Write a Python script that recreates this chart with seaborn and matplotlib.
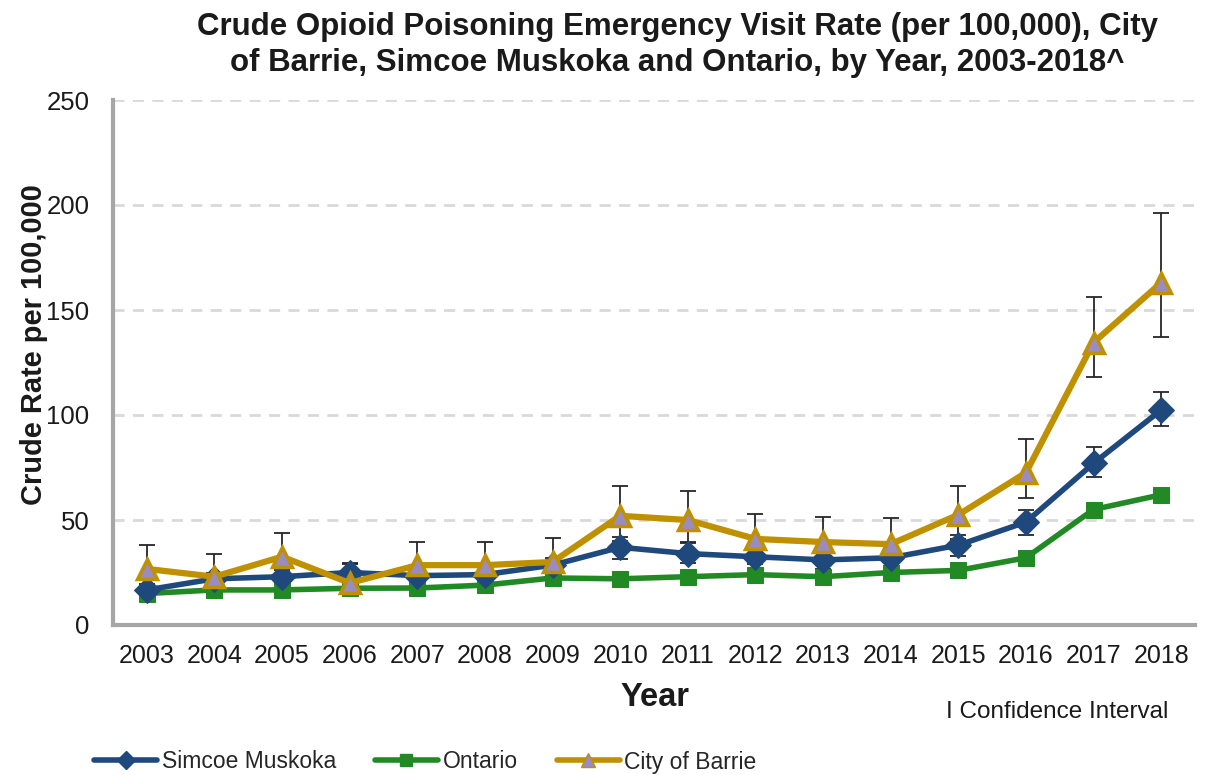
import matplotlib
matplotlib.use("Agg")
import matplotlib.pyplot as plt
from matplotlib.lines import Line2D
import seaborn as sns
import pandas as pd
import numpy as np

years = [2003, 2004, 2005, 2006, 2007, 2008, 2009, 2010, 2011, 2012, 2013, 2014, 2015, 2016, 2017, 2018]
simcoe = [16.7, 22, 23, 25, 23.5, 24, 28.5, 37, 34, 32.5, 31, 32, 38, 49, 77, 102.4]
simcoe_lo = [14, 19, 20, 21, 20.5, 21, 25, 31.5, 29.5, 29, 26.5, 28, 33, 43, 70.5, 95]
simcoe_hi = [19.5, 25, 26, 29.5, 27, 27.5, 32, 42, 39, 36, 34.5, 35, 43, 55, 85, 111]
ontario = [15, 16.7, 16.7, 17.5, 17.6, 19, 22.4, 22, 23, 24, 23, 25, 26, 32, 55, 62]
barrie = [26.7, 23, 32.5, 20, 28.5, 28.5, 30, 52, 50, 41, 39.5, 38.5, 52.5, 72.5, 134.5, 163]
barrie_lo = [17, 14, 23, 14, 19.5, 19.5, 21, 40, 39.5, 31, 29, 28, 41, 60.5, 118, 137]
barrie_hi = [38, 34, 44, 29, 39.5, 39.5, 41.5, 66, 64, 53, 51.5, 51, 66, 88.5, 156, 196]
yticks = [0, 50, 100, 150, 200, 250]

sns.set_theme(style="white")
plt.rcParams['font.family'] = ['Liberation Sans', 'DejaVu Sans']

fig = plt.figure(figsize=(12.07, 7.75), dpi=100)
ax = fig.add_axes([113/1207, 1-625/775, (1195-113)/1207, 525/775])

c_sm = '#1F497D'
c_on = '#218A25'
c_ba = '#BF9000'
c_ba_face = '#9A8CC0'
gray = '#A6A6A6'
txt = '#1a1a1a'

df = pd.DataFrame({'year': years, 'simcoe': simcoe, 'ontario': ontario, 'barrie': barrie})

sm = np.array(simcoe); ba = np.array(barrie)
ax.errorbar(years, sm, yerr=[sm - np.array(simcoe_lo), np.array(simcoe_hi) - sm], fmt='none',
            ecolor='#262626', elinewidth=1.3, capsize=6, capthick=1.3, zorder=2)
ax.errorbar(years, ba, yerr=[ba - np.array(barrie_lo), np.array(barrie_hi) - ba], fmt='none',
            ecolor='#262626', elinewidth=1.3, capsize=6, capthick=1.3, zorder=2)

sns.lineplot(data=df, x='year', y='simcoe', ax=ax, color=c_sm, linewidth=4, marker='D',
             markersize=13, markeredgecolor=c_sm, markerfacecolor=c_sm, zorder=4)
sns.lineplot(data=df, x='year', y='ontario', ax=ax, color=c_on, linewidth=4, marker='s',
             markersize=11, markeredgecolor=c_on, markerfacecolor=c_on, zorder=3)
sns.lineplot(data=df, x='year', y='barrie', ax=ax, color=c_ba, linewidth=4.5, marker='^',
             markersize=15, markeredgecolor=c_ba, markeredgewidth=2.5, markerfacecolor=c_ba_face, zorder=5)

ax.set_xlim(2002.5, 2018.5)
ax.set_ylim(0, 250)
ax.set_yticks(yticks)
ax.set_yticklabels([str(v) for v in yticks], fontsize=18.5, color=txt)
ax.set_xticks(years)
ax.set_xticklabels([str(y) for y in years], fontsize=18, color=txt)
ax.set_xticks(np.arange(2002.5, 2018.6, 1.0), minor=True)
ax.tick_params(axis='x', which='major', length=0, pad=14)
ax.tick_params(axis='x', which='minor', length=7, width=2.5, color=gray, direction='out')
ax.tick_params(axis='y', which='major', length=7, width=2, color=gray, direction='out', pad=10)
ax.set_xlabel('')
ax.set_ylabel('')

ax.yaxis.grid(True, color='#D9D9D9', linestyle=(0, (4, 3)), linewidth=2)
ax.xaxis.grid(False)
ax.set_axisbelow(True)
for s in ['top', 'right']:
    ax.spines[s].set_visible(False)
for s in ['left', 'bottom']:
    ax.spines[s].set_color(gray)
    ax.spines[s].set_linewidth(3)

fig.text(677/1207, 1-45/775,
         'Crude Opioid Poisoning Emergency Visit Rate (per 100,000), City\nof Barrie, Simcoe Muskoka and Ontario, by Year, 2003-2018^',
         ha='center', va='center', fontsize=22.5, fontweight='bold', color=txt, linespacing=1.25)
fig.text(34/1207, 1-345/775, 'Crude Rate per 100,000', rotation=90, ha='center', va='center',
         fontsize=20.9, fontweight='bold', color=txt)
fig.text(655/1207, 1-697/775, 'Year', ha='center', va='center', fontsize=23.5, fontweight='bold', color=txt)
fig.text(1057/1207, 1-712/775, 'I Confidence Interval', ha='center', va='center', fontsize=17.5, color=txt)

handles = [
    Line2D([0], [0], color=c_sm, lw=4, marker='D', markersize=9, markerfacecolor=c_sm, markeredgecolor=c_sm),
    Line2D([0], [0], color=c_on, lw=4, marker='s', markersize=9, markerfacecolor=c_on, markeredgecolor=c_on),
    Line2D([0], [0], color=c_ba, lw=4, marker='^', markersize=10, markerfacecolor=c_ba_face, markeredgecolor=c_ba),
]
fig.legend(handles, ['Simcoe Muskoka', 'Ontario', 'City of Barrie'], loc='center left',
           bbox_to_anchor=(94/1207, 1-762/775), ncol=3, frameon=False, fontsize=16.5,
           handlelength=2.75, handletextpad=0.2, columnspacing=1.7, borderpad=0, borderaxespad=0)

fig.savefig('out.png', dpi=100)
